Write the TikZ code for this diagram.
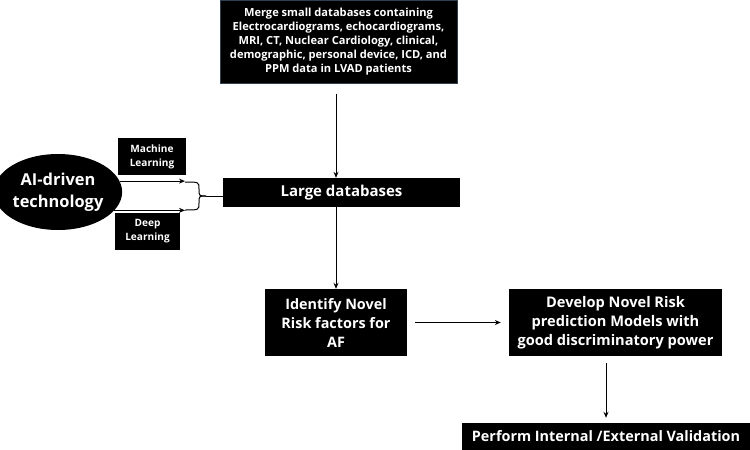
\documentclass[tikz,border=0pt]{standalone}
\usepackage{fontspec}
\setmainfont{Open Sans}
\usetikzlibrary{arrows.meta,shapes.geometric}
\definecolor{frame}{HTML}{2E3F4F}
\begin{document}
\begin{tikzpicture}[x=1pt,y=-1pt,
  blk/.style={fill=black, text=white, align=center, inner sep=0pt},
  arr/.style={-{Stealth[length=6pt,width=5pt]}, line width=1pt},
  con/.style={line width=1pt}]
\useasboundingbox (0,0) rectangle (750,450);

% boxes
\node[blk, draw=frame, line width=1pt, minimum width=237, minimum height=83,
      font=\bfseries\fontsize{11.1}{14}\selectfont] (merge) at (338.5,41.5)
  {Merge small databases containing\\Electrocardiograms, echocardiograms,\\MRI, CT, Nuclear Cardiology, clinical,\\demographic, personal device, ICD, and\\PPM data in LVAD patients};
\node[blk, minimum width=237, minimum height=29,
      font=\bfseries\fontsize{15}{15}\selectfont] (lg) at (341.5,192.5) {Large databases};
\node[blk, ellipse, minimum width=118, minimum height=76,
      font=\bfseries\fontsize{16.4}{22}\selectfont] (ai) at (58,192) {AI-driven\\technology};
\node[blk, minimum width=68, minimum height=37,
      font=\bfseries\fontsize{10.1}{14}\selectfont] (ml) at (152,156.5) {Machine\\Learning};
\node[blk, minimum width=65, minimum height=37,
      font=\bfseries\fontsize{10.1}{14}\selectfont] (dl) at (147.5,231.5) {Deep\\Learning};
\node[blk, minimum width=142, minimum height=67,
      font=\bfseries\fontsize{14.4}{19}\selectfont] (idf) at (336,322.5) {Identify Novel\\Risk factors for\\AF};
\node[blk, minimum width=213, minimum height=67,
      font=\bfseries\fontsize{14.6}{19}\selectfont] (dev) at (615.5,322.5) {Develop Novel Risk\\prediction Models with\\good discriminatory power};
\node[blk, minimum width=288, minimum height=27,
      font=\bfseries\fontsize{14.4}{15}\selectfont] (perf) at (606,436.5) {Perform Internal /External Validation};

% brace joining the two AI branches
\coordinate (bu) at (185,182);
\coordinate (bl) at (185,210);
\coordinate (tip) at (206,196);
\draw[con] (bu) .. controls (199,182) .. (199,189) .. controls (199,196) .. (tip);
\draw[con] (bl) .. controls (199,210) .. (199,203) .. controls (199,196) .. (tip);
\draw[con] (tip) -- (tip -| lg.west);

% connectors
\draw[arr] (ai.10) -- (ai.10 -| bu);
\draw[arr] (ai.-18) -- (ai.-18 -| bl);
\draw[arr, shorten <=10pt] (merge.south -| idf.north) -- (lg.north -| idf.north);
\draw[arr] (lg.south -| idf.north) -- (idf.north);
\draw[arr, shorten <=8pt, shorten >=8pt] (idf.east) -- (dev.west);
\draw[arr, shorten <=7pt, shorten >=5pt] (dev.south -| perf.north) -- (perf.north);
\end{tikzpicture}
\end{document}
